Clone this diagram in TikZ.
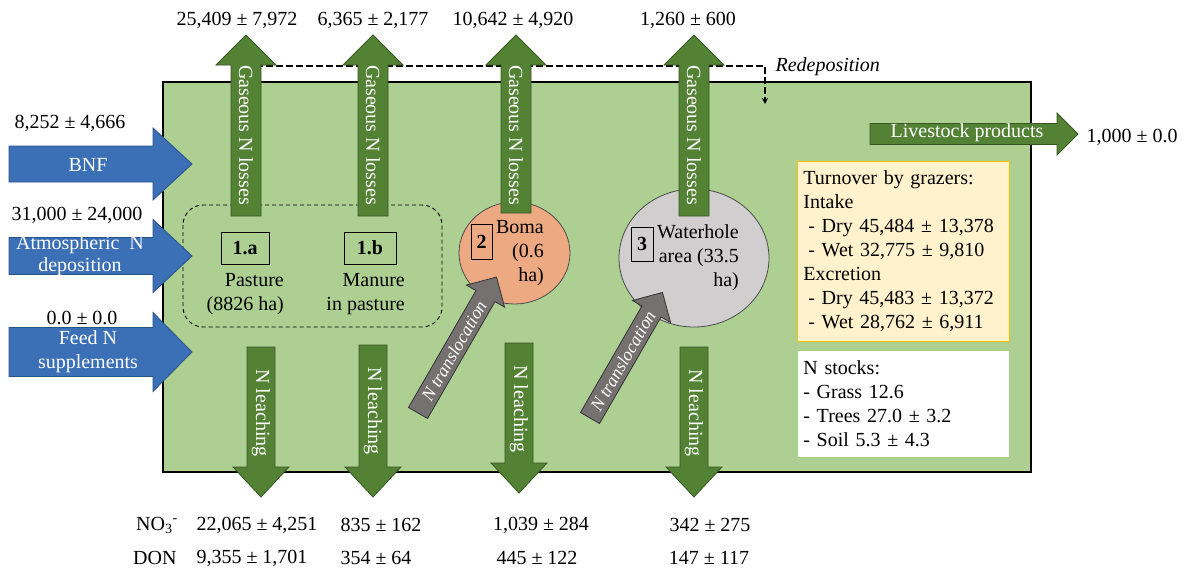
\documentclass[tikz,border=0pt]{standalone}
\usepackage{fontspec}
\setmainfont{Liberation Serif}
\usetikzlibrary{arrows.meta}

\definecolor{fieldgreen}{HTML}{ADCF92}
\definecolor{arrowgreen}{HTML}{548235}
\definecolor{darkgreen}{HTML}{385723}
\definecolor{inblue}{HTML}{3B6FB6}
\definecolor{darkblue}{HTML}{2A5288}
\definecolor{bomaorange}{HTML}{EDAA82}
\definecolor{holegrey}{HTML}{D0CECE}
\definecolor{transgrey}{HTML}{767171}
\definecolor{turnfill}{HTML}{FFF2CC}
\definecolor{turnline}{HTML}{FFC000}
\definecolor{stockline}{HTML}{A9D18E}

\tikzset{
  greenarrow/.style={fill=arrowgreen, draw=darkgreen, line width=0.8pt},
  bluearrow/.style={fill=inblue, draw=darkblue, line width=0.8pt},
  greyarrow/.style={fill=transgrey, draw=black!80, line width=0.8pt},
  arrowtext/.style={text=white, inner sep=0pt},
  transtext/.style={text=white, inner sep=0pt, font=\fontsize{18}{20}\selectfont\itshape},
  numbox/.style={draw, line width=0.8pt, inner sep=0pt, font=\fontsize{20}{24}\selectfont\bfseries},
  area/.style={draw=black!70, line width=0.8pt},
}

\newcommand{\fatarrow}[7]{%
  \begin{scope}[shift={#2}, rotate=#3]
    \draw[#1] (0,-#5) -- ({#4-#7},-#5) -- ({#4-#7},-#6) -- (#4,0)
      -- ({#4-#7},#6) -- ({#4-#7},#5) -- (0,#5) -- cycle;
  \end{scope}}

\begin{document}
\begin{tikzpicture}[x=1pt, y=-1pt, font=\fontsize{20}{24}\selectfont]
  \useasboundingbox (0,0) rectangle (1184,574);
  \draw[fill=fieldgreen, line width=1.4pt] (163,82) rectangle (1031,472);

  \coordinate (r0) at (246,66);
  \coordinate (r1) at (765,66);
  \coordinate (r2) at (765,104);
  \draw[line width=1.5pt, dash pattern=on 7pt off 3pt, -{Stealth[length=6pt, width=6pt]}] (r0) -- (r1) -- (r2);
  \node[font=\fontsize{20}{24}\selectfont\itshape, anchor=west] (redep) at (772,67) {Redeposition};

  \draw[line width=0.9pt, dash pattern=on 4pt off 3pt, rounded corners=20pt] (183,205) rectangle (442,327);
  \draw[area, fill=bomaorange] (514.5,253) ellipse [x radius=55.5, y radius=51];
  \draw[area, fill=holegrey] (694,258) ellipse [x radius=75, y radius=69];

  \node[numbox, minimum width=48, minimum height=32] (b1a) at (245,248) {1.a};
  \node[numbox, minimum width=52, minimum height=32] (b1b) at (370,248) {1.b};
  \node[numbox, minimum width=21, minimum height=35] (b2) at (481.5,241.5) {2};
  \node[numbox, minimum width=22, minimum height=34] (b3) at (642,244) {3};
  \node[align=right, anchor=east, inner sep=0pt] (pasture) at (284,294) {Pasture\\(8826 ha)};
  \node[align=right, anchor=east, inner sep=0pt] (manure) at (405,294) {Manure\\in pasture};
  \node[align=right, anchor=east, inner sep=0pt] (boma) at (544,253) {Boma\\(0.6\\ha)};
  \node[align=right, anchor=east, inner sep=0pt] (hole) at (739,258) {Waterhole\\area (33.5\\ha)};

  \fatarrow{greenarrow}{(246,216)}{90}{181}{15}{30}{30}
  \fatarrow{greenarrow}{(373,216)}{90}{181}{15}{30}{30}
  \fatarrow{greenarrow}{(516,213)}{90}{178}{15}{30}{30}
  \fatarrow{greenarrow}{(694,216)}{90}{181}{15}{30}{30}
  \node[arrowtext, rotate=-90] (gas1) at (246,135) {Gaseous N losses};
  \node[arrowtext, rotate=-90] (gas2) at (373,135) {Gaseous N losses};
  \node[arrowtext, rotate=-90] (gas3) at (516,135) {Gaseous N losses};
  \node[arrowtext, rotate=-90] (gas4) at (694,135) {Gaseous N losses};

  \fatarrow{greyarrow}{(418,413)}{60}{157}{11}{22}{22}
  \fatarrow{greyarrow}{(590,418)}{60}{145}{11}{22}{22}
  \node[transtext, rotate=60] (trans1) at (454,351) {N translocation};
  \node[transtext, rotate=60] (trans2) at (623,361) {N translocation};

  \fatarrow{greenarrow}{(261,347)}{-90}{150}{14}{28}{30}
  \fatarrow{greenarrow}{(373,345)}{-90}{152}{14}{28}{30}
  \fatarrow{greenarrow}{(519,343)}{-90}{150}{14}{28}{30}
  \fatarrow{greenarrow}{(694,347)}{-90}{150}{14}{28}{30}
  \node[arrowtext, rotate=-90] (leach1) at (261,413) {N leaching};
  \node[arrowtext, rotate=-90] (leach2) at (373,411) {N leaching};
  \node[arrowtext, rotate=-90] (leach3) at (519,409) {N leaching};
  \node[arrowtext, rotate=-90] (leach4) at (694,413) {N leaching};

  \fatarrow{bluearrow}{(9,164)}{0}{183}{18}{36}{39}
  \fatarrow{bluearrow}{(9,256)}{0}{183}{18.5}{36.5}{39}
  \fatarrow{bluearrow}{(9,352)}{0}{183}{24.5}{39.5}{39}
  \node[arrowtext] (bnf) at (88,165) {BNF};
  \node[arrowtext, align=center, font=\fontsize{20}{22}\selectfont] (atm) at (80,256) {Atmospheric~~N\\deposition};
  \node[arrowtext, align=center] (feed) at (88,352) {Feed N\\supplements};

  \fatarrow{greenarrow}{(870,134)}{0}{208}{10.5}{21}{21}
  \node[arrowtext] (live) at (967,133) {Livestock products};

  \node[draw=turnline, fill=turnfill, line width=0.8pt, text width=200pt, minimum height=180pt,
    inner sep=6pt, align=left, anchor=north west] (turnover) at (797,161)
    {Turnover by grazers:\\Intake\\\hspace*{5pt}- Dry 45,484 ± 13,378\\\hspace*{5pt}- Wet 32,775 ± 9,810\\
     Excretion\\\hspace*{5pt}- Dry 45,483 ± 13,372\\\hspace*{5pt}- Wet 28,762 ± 6,911};
  \node[draw=stockline, fill=white, line width=0.8pt, text width=200pt, minimum height=107pt,
    inner sep=6pt, align=left, anchor=north west] (stocks) at (797,350)
    {N stocks:\\- Grass 12.6\\- Trees 27.0 ± 3.2\\- Soil 5.3 ± 4.3};

  \node (v1) at (70,123) {8,252 ± 4,666};
  \node (v2) at (77,215) {31,000 ± 24,000};
  \node (v3) at (82,318) {0.0 ± 0.0};
  \node (g1) at (237,20) {25,409 ± 7,972};
  \node (g2) at (373,20) {6,365 ± 2,177};
  \node (g3) at (513,20) {10,642 ± 4,920};
  \node (g4) at (688,20) {1,260 ± 600};
  \node (out) at (1132,137) {1,000 ± 0.0};

  \node[anchor=west, inner sep=0pt] (no3) at (136,525) {NO\textsubscript{3}\textsuperscript{-}};
  \node[anchor=west, inner sep=0pt] (don) at (133,558) {DON};
  \node (n1) at (257,525) {22,065 ± 4,251};
  \node (n2) at (381,525) {835 ± 162};
  \node (n3) at (541,525) {1,039 ± 284};
  \node (n4) at (710,525) {342 ± 275};
  \node (d1) at (252,558) {9,355 ± 1,701};
  \node (d2) at (376,558) {354 ± 64};
  \node (d3) at (537,558) {445 ± 122};
  \node (d4) at (709,558) {147 ± 117};
\end{tikzpicture}
\end{document}
